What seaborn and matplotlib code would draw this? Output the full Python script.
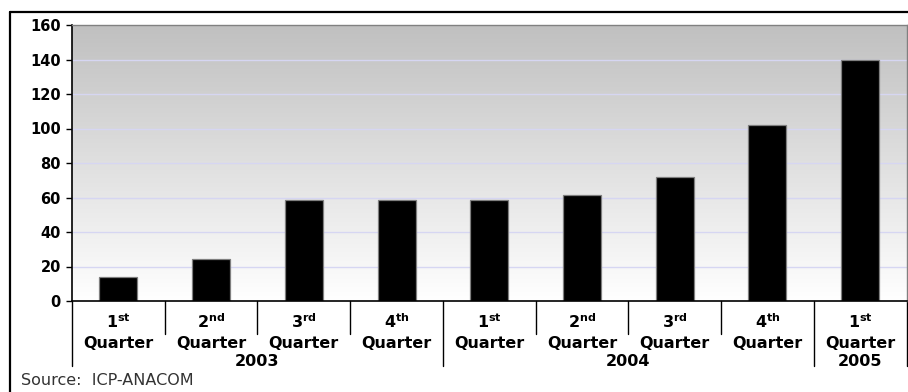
import numpy as np
import pandas as pd
import matplotlib
matplotlib.use("Agg")
import matplotlib.pyplot as plt
from matplotlib.colors import LinearSegmentedColormap
from matplotlib.lines import Line2D
import seaborn as sns

# Quarterly values
periods = ["Q1 2003", "Q2 2003", "Q3 2003", "Q4 2003",
           "Q1 2004", "Q2 2004", "Q3 2004", "Q4 2004", "Q1 2005"]
values = [14, 24.5, 58.5, 58.5, 58.5, 61.5, 72, 102, 139.5]
quarter_num = ["1", "2", "3", "4", "1", "2", "3", "4", "1"]
quarter_suffix = ["st", "nd", "rd", "th", "st", "nd", "rd", "th", "st"]
years = ["2003", "2004", "2005"]
year_counts = [4, 4, 1]
yticks = [0, 20, 40, 60, 80, 100, 120, 140, 160]
source = "Source:  ICP-ANACOM"

sns.set_theme(style="white")
plt.rcParams["font.family"] = ["DejaVu Sans"]
plt.rcParams["mathtext.fontset"] = "dejavusans"

W, H = 908, 392
fig = plt.figure(figsize=(W / 100, H / 100), dpi=100)
fig.patch.set_facecolor("white")

# axes box in pixel terms
left_px, right_px, top_px, zero_px = 72, 906.5, 25, 301
ax = fig.add_axes([left_px / W, (H - zero_px) / H,
                   (right_px - left_px) / W, (zero_px - top_px) / H])

df = pd.DataFrame({"period": periods, "value": values})
sns.barplot(data=df, x="period", y="value", order=periods, color="black",
            saturation=1, edgecolor="#7f7f7f", linewidth=0.9, width=0.41,
            ax=ax, zorder=3)

# gradient plot background
cmap = LinearSegmentedColormap.from_list("bg", ["#c0c0c0", "#ffffff"])
ax.imshow(np.linspace(0, 1, 256)[:, None], extent=(-0.5, 8.5, 0, 160),
          aspect="auto", cmap=cmap, zorder=0, interpolation="bilinear")

ax.set_xlim(-0.5, 8.5)
ax.set_ylim(0, 160)
ax.set_yticks(yticks)
ax.set_yticklabels([str(v) for v in yticks], fontsize=10.5, fontweight="bold",
                   color="black")
ax.tick_params(axis="y", direction="out", length=4, width=1, color="black",
               left=True, pad=4)
ax.set_xticks([])
ax.set_xlabel("")
ax.set_ylabel("")

for yv in yticks[1:-1]:
    ax.axhline(yv, color="#d6d6f2", lw=1.0, zorder=1)

for side in ["top", "right"]:
    ax.spines[side].set_color("#808080")
    ax.spines[side].set_linewidth(1)
for side in ["left", "bottom"]:
    ax.spines[side].set_color("black")
    ax.spines[side].set_linewidth(1.2)
for s in ax.spines.values():
    s.set_zorder(5)

# category labels and separators below the axis
tr = ax.get_xaxis_transform()
axh = zero_px - top_px


def yfrac(ypix):
    return (zero_px - ypix) / axh


for i in range(len(periods)):
    ax.text(i, yfrac(328), r"$\mathbf{%s}^{\mathbf{%s}}$" % (quarter_num[i], quarter_suffix[i]),
            transform=tr, ha="center", va="baseline", fontsize=11.5,
            color="black", clip_on=False)
    ax.text(i, yfrac(348), "Quarter", transform=tr, ha="center",
            va="baseline", fontsize=11.5, fontweight="bold", color="black",
            clip_on=False)

boundaries = np.cumsum([0] + year_counts)
for b in range(len(periods) + 1):
    long_line = b in boundaries
    y_end = 366 if long_line else 334
    ax.add_line(Line2D([b - 0.5, b - 0.5], [0, yfrac(y_end)], transform=tr,
                       color="black", lw=1, clip_on=False))

for k, yr in enumerate(years):
    center = (boundaries[k] + boundaries[k + 1] - 1) / 2
    ax.text(center, yfrac(366), yr, transform=tr, ha="center", va="baseline",
            fontsize=11.5, fontweight="bold", color="black", clip_on=False)

# outer frame (left and top edges)
fig.add_artist(Line2D([9.5 / W, 9.5 / W], [0, 1 - 12 / H], color="black", lw=1.6))
fig.add_artist(Line2D([9.5 / W, 1], [1 - 12 / H, 1 - 12 / H], color="black", lw=1.6))

fig.text(21 / W, 1 - 385 / H, source, fontsize=11.5, color="#333333",
         ha="left", va="baseline")

fig.savefig("out.png", dpi=100)
